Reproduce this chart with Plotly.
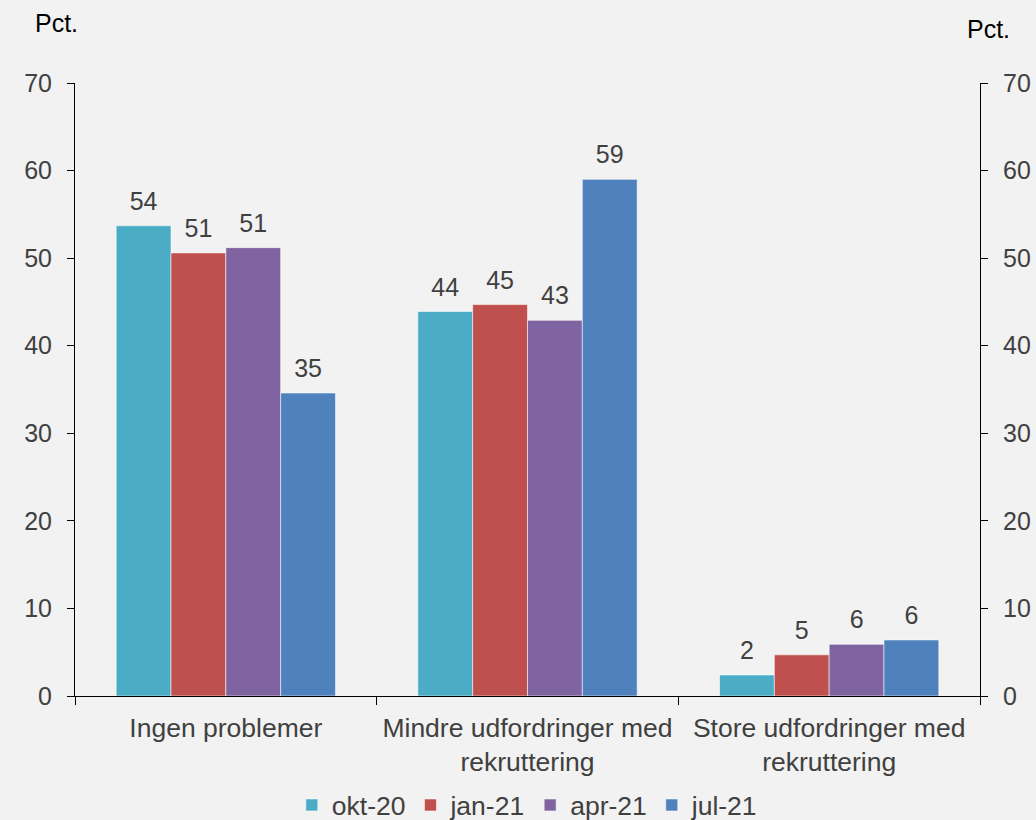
import plotly.graph_objects as go

categories = ["Ingen problemer", "Mindre udfordringer med<br>rekruttering", "Store udfordringer med<br>rekruttering"]
series_names = ["okt-20", "jan-21", "apr-21", "jul-21"]
okt20 = [53.7, 43.9, 2.4]
jan21 = [50.6, 44.7, 4.7]
apr21 = [51.2, 42.9, 5.9]
jul21 = [34.6, 59.0, 6.4]
colors = ["#4BACC6", "#C0504D", "#8064A2", "#4F81BD"]
y_ticks = [0, 10, 20, 30, 40, 50, 60, 70]

FONT = "Liberation Sans, Arial, sans-serif"
TXT = "#404040"
GAP = 0.273

fig = go.Figure()
for name, vals, col in zip(series_names, [okt20, jan21, apr21, jul21], colors):
    fig.add_trace(go.Bar(
        x=categories, y=vals, name=name, offsetgroup=name,
        marker=dict(color=col, line=dict(color="rgba(255,255,255,0.55)", width=1)),
        hoverinfo="x+y",
    ))
# value labels, grouped like the bars
for name, vals in zip(series_names, [okt20, jan21, apr21, jul21]):
    fig.add_trace(go.Scatter(
        x=categories, y=vals, mode="markers+text", offsetgroup=name,
        marker=dict(size=14, opacity=0),
        texttemplate="%{y:.0f}", textposition="top center",
        textfont=dict(family=FONT, size=25, color=TXT),
        showlegend=False, hoverinfo="skip", cliponaxis=False,
    ))
# invisible trace to activate the right-hand axis
fig.add_trace(go.Scatter(x=categories, y=[None, None, None], yaxis="y2",
                         showlegend=False, hoverinfo="skip", mode="markers"))

axis_common = dict(range=[0, 70], tickvals=y_ticks, showgrid=False, zeroline=False,
                   showline=True, linecolor="black", linewidth=1, automargin=False,
                   ticks="outside", ticklen=7, tickcolor="black", ticklabelstandoff=10,
                   tickfont=dict(family=FONT, size=25, color=TXT))

fig.update_layout(
    width=1036, height=820,
    paper_bgcolor="#F2F2F2", plot_bgcolor="#F2F2F2",
    margin=dict(l=75, r=56, t=83, b=124, autoexpand=False),
    barmode="group", bargap=GAP, bargroupgap=0,
    scattermode="group", scattergap=GAP,
    font=dict(family=FONT, size=25, color=TXT),
    xaxis=dict(showline=True, linecolor="black", linewidth=1, ticks="outside", automargin=False,
               tickson="boundaries", ticklen=8, tickcolor="black", ticklabelstandoff=8,
               tickfont=dict(family=FONT, size=26.5, color=TXT), showgrid=False),
    yaxis=dict(**axis_common, side="left"),
    yaxis2=dict(**axis_common, side="right", overlaying="y"),
    legend=dict(orientation="h", xref="container", yref="container",
                x=0.509, xanchor="center", y=0.018, yanchor="middle",
                font=dict(family=FONT, size=26.5, color=TXT), bgcolor="rgba(0,0,0,0)"),
    annotations=[
        dict(text="Pct.", xref="paper", yref="paper", x=-0.02, y=1.098, xanchor="center",
             yanchor="middle", showarrow=False, font=dict(family=FONT, size=25, color="black")),
        dict(text="Pct.", xref="paper", yref="paper", x=1.009, y=1.088, xanchor="center",
             yanchor="middle", showarrow=False, font=dict(family=FONT, size=25, color="black")),
    ],
)

fig.write_html("out.html", config={"displayModeBar": False},
               post_script="document.body.style.margin='0';")
